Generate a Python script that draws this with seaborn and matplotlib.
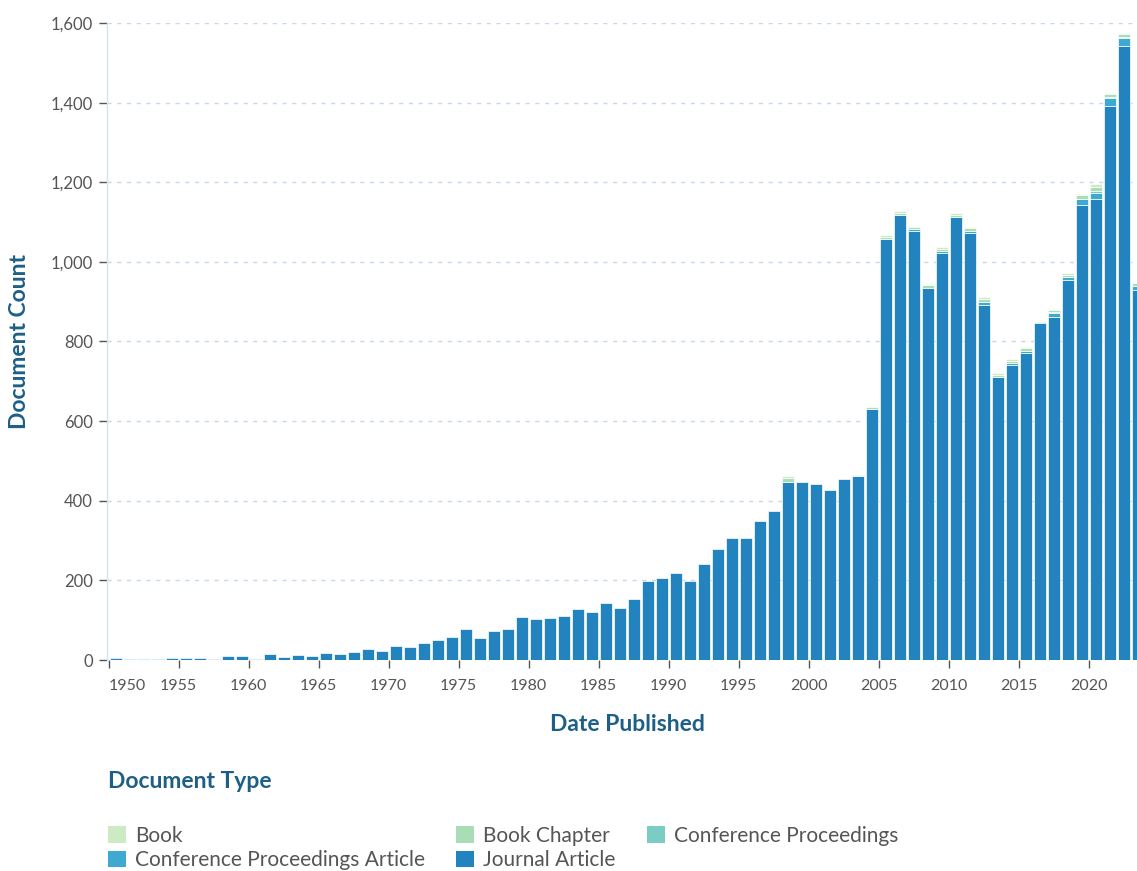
import pandas as pd
import matplotlib
matplotlib.use("Agg")
import matplotlib.pyplot as plt
import matplotlib.ticker as mticker
from matplotlib.patches import Patch
import seaborn as sns

# Anos e contagens por tipo de documento
anos = list(range(1950, 2024))

journal_article = [
    5, 2, 3, 3, 5, 4, 4, 2, 9, 9,
    2, 15, 7, 13, 11, 18, 15, 19, 28, 23,
    36, 32, 42, 51, 57, 78, 56, 72, 78, 109,
    102, 105, 111, 129, 121, 142, 131, 153, 198, 207,
    218, 198, 241, 278, 307, 307, 350, 374, 448, 446,
    441, 427, 454, 461, 630, 1057, 1118, 1078, 934, 1023,
    1112, 1072, 892, 712, 741, 771, 846, 861, 955, 1143,
    1158, 1392, 1541, 930,
]
conf_proc_article = [0] * 57 + [4, 0, 4, 0, 6, 8, 0, 6, 6, 2, 10, 8, 14, 16, 20, 22, 10]
conf_proc = [0] * 67 + [2, 0, 2, 3, 2, 2, 0]
book_chapter = [0] * 48 + [8, 0, 0, 0, 0, 4, 6, 6, 6, 5, 7, 6, 6, 6, 7, 5, 5, 6, 3, 5, 5, 8, 12, 7, 7, 6]
book = [0] * 48 + [5, 0, 0, 0, 0, 0, 0, 5, 5, 2, 4, 4, 4, 3, 4, 3, 3, 4, 1, 3, 3, 4, 6, 3, 3, 2]

tipos = ["Journal Article", "Conference Proceedings Article", "Conference Proceedings",
         "Book Chapter", "Book"]
cores = {
    "Book": "#ccebc5",
    "Book Chapter": "#a8ddb5",
    "Conference Proceedings": "#7bccc4",
    "Conference Proceedings Article": "#3fa9d2",
    "Journal Article": "#2383be",
}

series = [journal_article, conf_proc_article, conf_proc, book_chapter, book]
linhas = []
for tipo, valores in zip(tipos, series):
    for ano, v in zip(anos, valores):
        if v > 0:
            linhas.append({"ano": ano, "tipo": tipo, "contagem": v})
df = pd.DataFrame(linhas)

cor_texto = "#1d5f86"
cor_tick = "#555555"
plt.rcParams["font.family"] = ["Lato", "DejaVu Sans"]

fig = plt.figure(figsize=(11.37, 8.71), dpi=100)
ax = fig.add_axes([107 / 1137, 1 - 660 / 871, 1040 / 1137, 637 / 871])

# seaborn empilha o último nível embaixo, então inverte a ordem
sns.histplot(
    data=df, x="ano", weights="contagem", hue="tipo", hue_order=tipos[::-1],
    multiple="stack", binwidth=1, binrange=(1950, 2024), palette=cores,
    shrink=0.88, linewidth=0, alpha=1, legend=False, ax=ax,
)
for p in ax.patches:
    if p.get_height() > 0:
        p.set_edgecolor("white")
        p.set_linewidth(0.5)

ax.set_xlim(1949.88, 2024.16)
ax.set_ylim(0, 1600)
ax.set_xticks(range(1950, 2021, 5))
ax.set_yticks(range(0, 1601, 200))
ax.yaxis.set_major_formatter(mticker.FuncFormatter(lambda v, _: f"{v:,.0f}"))
ax.tick_params(axis="both", colors=cor_tick, length=6, width=1)
ax.tick_params(axis="x", pad=8, labelsize=11.5)
ax.tick_params(axis="y", pad=4, labelsize=12)
ax.get_xticklabels()[0].set_horizontalalignment("left")

ax.grid(axis="y", color="#c6d8ec", linestyle=(0, (3, 4)), linewidth=1)
ax.set_axisbelow(True)
for lado in ["top", "right", "bottom"]:
    ax.spines[lado].set_visible(False)
ax.spines["left"].set_color("#d6e3f1")
ax.spines["left"].set_linewidth(1)

ax.set_ylabel("")
ax.set_xlabel("Date Published", fontsize=16.5, fontweight="bold", color=cor_texto)
ax.xaxis.set_label_coords(0.5, -0.084)
fig.text(20 / 1137, 1 - 341 / 871, "Document Count", fontsize=16.5, fontweight="bold",
         color=cor_texto, rotation=90, ha="center", va="center")

# Legenda
fig.text(108 / 1137, 1 - 781 / 871, "Document Type", fontsize=16.5, fontweight="bold",
         color=cor_texto, va="center", ha="left")
ordem = ["Book", "Conference Proceedings Article", "Book Chapter", "Journal Article",
         "Conference Proceedings"]
handles = [Patch(facecolor=cores[t], label=t) for t in ordem]
fig.legend(
    handles=handles, ncol=3, loc="upper left",
    bbox_to_anchor=(108 / 1137, 1 - 826 / 871), frameon=False, fontsize=15,
    handlelength=0.85, handleheight=0.85, handletextpad=0.45, columnspacing=1.5,
    labelspacing=0.2, borderpad=0, borderaxespad=0, labelcolor="#555555",
)

fig.savefig("out.png", dpi=100)
